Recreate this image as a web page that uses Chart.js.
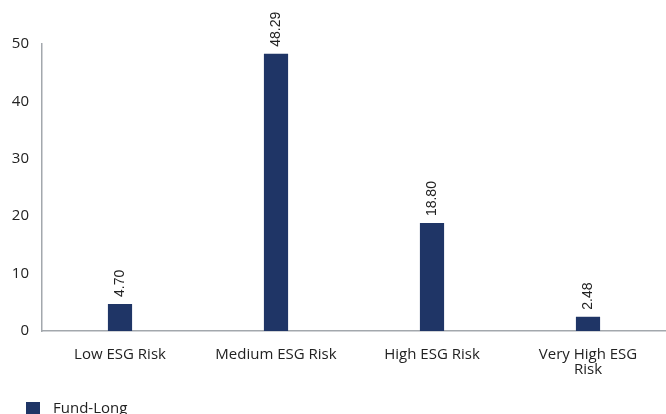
<!DOCTYPE html>
<html>
<head>
<meta charset="utf-8">
<script src="https://cdn.jsdelivr.net/npm/chart.js@4.4.1/dist/chart.umd.min.js"></script>
<style>
  html, body { margin: 0; padding: 0; background: #fff; }
  #wrap { width: 666px; height: 414px; position: relative; overflow: hidden; }
</style>
</head>
<body>
<div id="wrap"><canvas id="esgChart"></canvas></div>
<script>
// ESG risk distribution, fund long exposure (%)
const CATEGORIES = ['Low ESG Risk', 'Medium ESG Risk', 'High ESG Risk', ['Very High ESG', 'Risk']];
const FUND_LONG = [4.70, 48.29, 18.80, 2.48];
const SERIES_NAME = 'Fund-Long';

const BAR_COLOR = '#1f3566';
const AXIS_COLOR = '#a3a8ad';
const TEXT_COLOR = '#222222';
const FONT = '"Open Sans", sans-serif';

// draws the rotated value labels above each bar
const valueLabels = {
  id: 'valueLabels',
  afterDatasetsDraw(chart) {
    const { ctx } = chart;
    const meta = chart.getDatasetMeta(0);
    ctx.save();
    ctx.fillStyle = TEXT_COLOR;
    ctx.font = '14px "Liberation Sans", Arial, sans-serif';
    ctx.textAlign = 'left';
    ctx.textBaseline = 'middle';
    meta.data.forEach((bar, i) => {
      ctx.save();
      ctx.translate(bar.x, bar.y - 7);
      ctx.rotate(-Math.PI / 2);
      ctx.fillText(FUND_LONG[i].toFixed(2), 0, 0);
      ctx.restore();
    });
    ctx.restore();
  }
};

// legend sits low in the bottom-left corner, so it is drawn by hand
const cornerLegend = {
  id: 'cornerLegend',
  afterDraw(chart) {
    const { ctx } = chart;
    const ds = chart.data.datasets[0];
    ctx.save();
    ctx.fillStyle = ds.backgroundColor;
    ctx.fillRect(26, 402, 14, 12);
    ctx.fillStyle = TEXT_COLOR;
    ctx.font = '15px ' + FONT;
    ctx.textBaseline = 'alphabetic';
    ctx.fillText(ds.label, 53, 413);
    ctx.restore();
  }
};

new Chart(document.getElementById('esgChart'), {
  type: 'bar',
  data: {
    labels: CATEGORIES,
    datasets: [{
      label: SERIES_NAME,
      data: FUND_LONG,
      backgroundColor: BAR_COLOR,
      borderWidth: 0,
      categoryPercentage: 1,
      barPercentage: 0.155
    }]
  },
  options: {
    responsive: true,
    maintainAspectRatio: false,
    animation: false,
    layout: { padding: { top: 44, right: 0, left: 0, bottom: 38 } },
    plugins: {
      legend: { display: false },
      tooltip: { enabled: false }
    },
    scales: {
      x: {
        grid: { display: false, drawTicks: false },
        border: { display: true, color: AXIS_COLOR, width: 1.5 },
        ticks: {
          color: TEXT_COLOR,
          font: { family: FONT, size: 15, lineHeight: 1.0 },
          maxRotation: 0,
          padding: 16
        },
        afterFit(scale) { scale.height = 45; }
      },
      y: {
        min: 0,
        max: 50,
        grid: { display: false, drawTicks: false },
        border: { display: true, color: AXIS_COLOR, width: 1.5 },
        ticks: {
          stepSize: 10,
          color: TEXT_COLOR,
          font: { family: FONT, size: 15 },
          padding: 13
        },
        afterFit(scale) { scale.width = 42; }
      }
    }
  },
  plugins: [valueLabels, cornerLegend]
});
</script>
</body>
</html>
